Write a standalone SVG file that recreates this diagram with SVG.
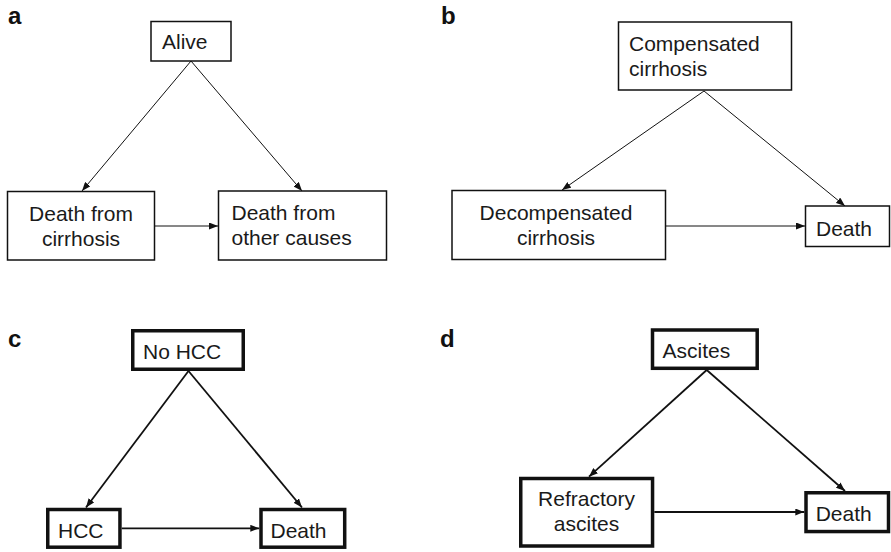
<svg xmlns="http://www.w3.org/2000/svg" width="891" height="552" viewBox="0 0 891 552">
<defs>
<style>
.t{font-family:"Liberation Sans",Arial,sans-serif;font-size:21px;fill:#1a1a1a}
.lbl{font-family:"Liberation Sans",Arial,sans-serif;font-size:24px;font-weight:bold;fill:#111}
.thin{fill:#fff;stroke:#111;stroke-width:1.5}
.thick{fill:#fff;stroke:#111;stroke-width:3.5}
.c1{stroke:#111;stroke-width:1;fill:none;marker-end:url(#ah)}
.c2{stroke:#111;stroke-width:1.8;fill:none;marker-end:url(#ah2)}
</style>
<marker id="ah" markerUnits="userSpaceOnUse" markerWidth="9" markerHeight="7" refX="9" refY="3.5" orient="auto">
<path d="M0,0 L9,3.5 L0,7 z" fill="#111"/>
</marker>
<marker id="ah2" markerUnits="userSpaceOnUse" markerWidth="9" markerHeight="7" refX="9" refY="3.5" orient="auto">
<path d="M0,0 L9,3.5 L0,7 z" fill="#111"/>
</marker>
</defs>
<rect width="891" height="552" fill="#fff"/>

<g id="labels">
<text class="lbl" x="8" y="24">a</text>
<text class="lbl" x="441" y="24">b</text>
<text class="lbl" x="8" y="347">c</text>
<text class="lbl" x="440" y="347">d</text>
</g>

<g id="connectors">
<line class="c1" x1="191" y1="61" x2="82" y2="191"/>
<line class="c1" x1="191" y1="61" x2="302" y2="191"/>
<line class="c1" x1="155" y1="226" x2="218" y2="226"/>
<line class="c1" x1="704" y1="91" x2="562" y2="190"/>
<line class="c1" x1="704" y1="91" x2="845" y2="206"/>
<line class="c1" x1="665.5" y1="226" x2="805" y2="226"/>
<line class="c2" x1="188.5" y1="371" x2="86" y2="507.5"/>
<line class="c2" x1="188.5" y1="371" x2="302" y2="507.5"/>
<line class="c2" x1="121.7" y1="528.3" x2="259.3" y2="528.3"/>
<line class="c2" x1="706.7" y1="370" x2="589" y2="476.7"/>
<line class="c2" x1="706.7" y1="370" x2="845" y2="491"/>
<line class="c2" x1="654.3" y1="512" x2="804.3" y2="512"/>
</g>

<g id="a-alive">
<rect class="thin" x="151" y="21.5" width="80" height="39.5"/>
<text class="t" x="162" y="48.5">Alive</text>
</g>
<g id="a-death-cirrhosis">
<rect class="thin" x="7.5" y="191.5" width="147" height="68.5"/>
<text class="t" x="81" y="220.5" text-anchor="middle">Death from</text>
<text class="t" x="81" y="245.5" text-anchor="middle">cirrhosis</text>
</g>
<g id="a-death-other">
<rect class="thin" x="218.5" y="191" width="168" height="69"/>
<text class="t" x="231.5" y="220">Death from</text>
<text class="t" x="231.5" y="245">other causes</text>
</g>

<g id="b-compensated">
<rect class="thin" x="618.5" y="22" width="173" height="68"/>
<text class="t" x="629" y="51">Compensated</text>
<text class="t" x="629" y="76">cirrhosis</text>
</g>
<g id="b-decompensated">
<rect class="thin" x="452" y="190.5" width="213.5" height="69"/>
<text class="t" x="556" y="220" text-anchor="middle">Decompensated</text>
<text class="t" x="556" y="245" text-anchor="middle">cirrhosis</text>
</g>
<g id="b-death">
<rect class="thin" x="805.5" y="206" width="84" height="40.5"/>
<text class="t" x="816" y="236">Death</text>
</g>

<g id="c-nohcc">
<rect class="thick" x="132.75" y="330.75" width="110.5" height="38.5"/>
<text class="t" x="143" y="358.5">No HCC</text>
</g>
<g id="c-hcc">
<rect class="thick" x="47.75" y="509.5" width="72.2" height="37.7"/>
<text class="t" x="58" y="538">HCC</text>
</g>
<g id="c-death">
<rect class="thick" x="261" y="509.5" width="83.7" height="37.7"/>
<text class="t" x="270.5" y="538">Death</text>
</g>

<g id="d-ascites">
<rect class="thick" x="652.5" y="330" width="104.7" height="38.3"/>
<text class="t" x="662.5" y="357.5">Ascites</text>
</g>
<g id="d-refractory">
<rect class="thick" x="520.75" y="478.5" width="131.8" height="67.5"/>
<text class="t" x="586.5" y="506" text-anchor="middle">Refractory</text>
<text class="t" x="586.5" y="531" text-anchor="middle">ascites</text>
</g>
<g id="d-death">
<rect class="thick" x="806" y="492.75" width="82.5" height="38.8"/>
<text class="t" x="815.7" y="521">Death</text>
</g>
</svg>
